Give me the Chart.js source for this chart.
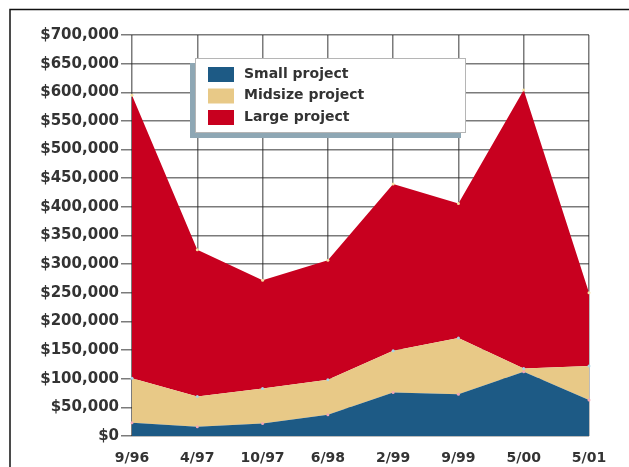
<!DOCTYPE html>
<html>
<head>
<meta charset="utf-8">
<script src="https://cdn.jsdelivr.net/npm/chart.js@4"></script>
<style>
  html, body { margin: 0; padding: 0; background: #fff; }
  #wrap { width: 629px; height: 467px; position: relative; }
</style>
</head>
<body>
<div id="wrap"><canvas id="c" width="629" height="467"></canvas></div>
<script>
// ===== DATA =====
const labels = ['9/96', '4/97', '10/97', '6/98', '2/99', '9/99', '5/00', '5/01'];
const smallProject = [23000, 16000, 22000, 37000, 76000, 73000, 112000, 63000];
const midsizeProject = [78000, 53000, 61000, 61000, 73000, 98000, 6000, 59000];
const largeProject = [494000, 256000, 189000, 209000, 291000, 235000, 486000, 128000];
const yTicks = [0, 50000, 100000, 150000, 200000, 250000, 300000, 350000, 400000, 450000, 500000, 550000, 600000, 650000, 700000];

const legendItems = [
  { label: 'Small project', color: '#1d5a85' },
  { label: 'Midsize project', color: '#e8c987' },
  { label: 'Large project', color: '#c8001f' }
];

const FONT = '"DejaVu Sans", sans-serif';

// outer frame (top + left edges only are on screen)
const framePlugin = {
  id: 'frame',
  beforeDraw(chart) {
    const ctx = chart.ctx;
    ctx.save();
    ctx.strokeStyle = '#111';
    ctx.lineWidth = 1.5;
    ctx.beginPath();
    ctx.moveTo(10, 467);
    ctx.lineTo(10, 9.5);
    ctx.lineTo(629, 9.5);
    ctx.stroke();
    ctx.restore();
  }
};

// boxed legend floating inside the plot
const boxLegend = {
  id: 'boxLegend',
  afterDraw(chart) {
    const ctx = chart.ctx;
    const x = 195, y = 58, w = 271, h = 75;
    ctx.save();
    ctx.fillStyle = '#8ea7b4';
    ctx.fillRect(x - 5, y + 5, w, h);
    ctx.fillStyle = '#fff';
    ctx.fillRect(x, y, w, h);
    ctx.strokeStyle = '#b5b5b5';
    ctx.lineWidth = 1;
    ctx.strokeRect(x + 0.5, y + 0.5, w - 1, h - 1);
    ctx.font = 'bold 14px ' + FONT;
    ctx.textBaseline = 'middle';
    legendItems.forEach((it, i) => {
      const ry = 74 + i * 21.5;
      ctx.fillStyle = it.color;
      ctx.fillRect(208, ry - 7, 26, 15);
      ctx.fillStyle = '#333';
      ctx.fillText(it.label, 244, ry);
    });
    ctx.restore();
  }
};

function series(label, data, color, pointColor, fill) {
  return {
    label, data,
    backgroundColor: color,
    borderColor: color,
    borderWidth: 0,
    fill,
    tension: 0,
    pointRadius: 1.5,
    pointBackgroundColor: pointColor,
    pointBorderWidth: 0
  };
}

new Chart(document.getElementById('c'), {
  type: 'line',
  data: {
    labels,
    datasets: [
      series('Small project', smallProject, '#1d5a85', '#f2a7b4', 'origin'),
      series('Midsize project', midsizeProject, '#e8c987', '#a9d4e4', '-1'),
      series('Large project', largeProject, '#c8001f', '#f6e2a4', '-1')
    ]
  },
  options: {
    responsive: false,
    animation: false,
    layout: { padding: { left: 10, right: 40, top: 35, bottom: 0 } },
    plugins: {
      legend: { display: false },
      tooltip: { enabled: false }
    },
    scales: {
      x: {
        z: 1,
        offset: false,
        grid: { color: 'rgba(35,35,35,0.6)', lineWidth: 1.5, tickLength: 0 },
        border: { display: false },
        ticks: {
          font: { family: FONT, size: 14, weight: 'bold' },
          color: '#333',
          padding: 14,
          maxRotation: 0,
          autoSkip: false
        },
        afterFit(scale) { scale.height = 31; }
      },
      y: {
        z: 1,
        stacked: true,
        min: 0,
        max: 700000,
        afterBuildTicks(scale) { scale.ticks = yTicks.map(v => ({ value: v })); },
        grid: { color: 'rgba(35,35,35,0.6)', lineWidth: 1.5, tickLength: 11 },
        border: { display: false },
        ticks: {
          font: { family: FONT, size: 15, weight: 'bold' },
          color: '#333',
          padding: 2,
          callback: v => '$' + v.toLocaleString('en-US')
        },
        afterFit(scale) { scale.width = 122; }
      }
    }
  },
  plugins: [framePlugin, boxLegend]
});
</script>
</body>
</html>
